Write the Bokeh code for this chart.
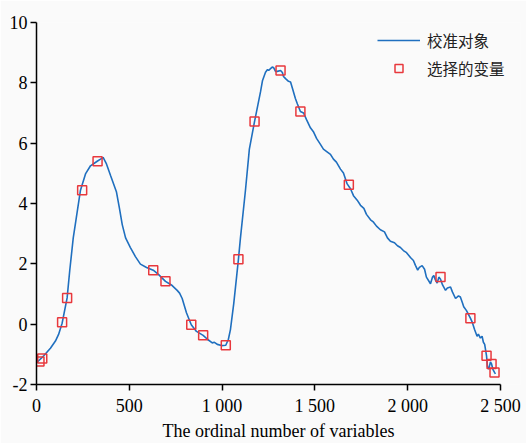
from bokeh.plotting import figure
from bokeh.models import Range1d, FixedTicker, Legend, LegendItem
from bokeh.embed import file_html
from bokeh.resources import INLINE

# Calibration object spectrum
line_x = [0, 39, 75, 102, 119, 138, 165, 179, 198, 214, 237, 264, 291, 327, 345, 359, 377, 399, 431, 447,
          462, 480, 506, 533, 560, 593, 629, 657, 695, 727, 758, 771, 785, 808, 834, 862, 898, 921, 947, 959,
          974, 997, 1020, 1034, 1045, 1063, 1078, 1088, 1099, 1126, 1147, 1175, 1207, 1218, 1234, 1245, 1251,
          1261, 1270, 1277, 1288, 1298, 1315, 1325, 1331, 1342, 1358, 1369, 1379, 1395, 1406, 1422, 1439, 1455,
          1476, 1492, 1509, 1530, 1546, 1562, 1584, 1600, 1616, 1638, 1654, 1674, 1692, 1708, 1728, 1746, 1764,
          1778, 1800, 1816, 1832, 1853, 1875, 1891, 1907, 1929, 1945, 1961, 1977, 1994, 2015, 2031, 2042, 2054,
          2063, 2078, 2091, 2101, 2123, 2134, 2141, 2150, 2159, 2168, 2177, 2188, 2204, 2214, 2231, 2241, 2258,
          2274, 2284, 2295, 2302, 2317, 2338, 2349, 2360, 2374, 2381, 2392, 2401, 2408, 2415, 2425, 2430, 2437,
          2446, 2452, 2460, 2468, 2473]
line_y = [-1.28, -1.05, -0.80, -0.56, -0.34, 0.03, 0.87, 1.77, 2.86, 3.51, 4.44, 4.98, 5.25, 5.40, 5.47, 5.53,
          5.31, 4.93, 4.38, 3.84, 3.30, 2.86, 2.54, 2.24, 1.99, 1.88, 1.79, 1.65, 1.42, 1.30, 1.12, 1.03, 0.85,
          0.38, -0.02, -0.24, -0.37, -0.50, -0.62, -0.60, -0.67, -0.71, -0.70, -0.50, -0.18, 0.69, 1.56, 2.15,
          2.86, 4.44, 5.80, 6.72, 7.70, 8.08, 8.35, 8.44, 8.41, 8.47, 8.52, 8.51, 8.38, 8.38, 8.41, 8.34, 8.21,
          8.14, 8.05, 8.03, 7.82, 7.48, 7.30, 7.05, 7.00, 6.78, 6.51, 6.38, 6.16, 5.96, 5.80, 5.73, 5.63, 5.47,
          5.37, 5.14, 5.01, 4.65, 4.49, 4.26, 4.11, 3.94, 3.84, 3.64, 3.46, 3.38, 3.25, 3.13, 3.06, 2.86, 2.75,
          2.70, 2.60, 2.54, 2.44, 2.37, 2.21, 2.11, 1.95, 1.79, 1.88, 1.94, 1.82, 1.56, 1.34, 1.56, 1.61, 1.46,
          1.36, 1.56, 1.49, 1.30, 1.12, 1.20, 1.23, 1.07, 0.85, 0.94, 0.90, 0.71, 0.58, 0.45, 0.20, 0.05, -0.17,
          -0.40, -0.33, -0.46, -0.40, -0.60, -0.67, -1.05, -1.41, -1.49, -1.25, -1.32, -1.51, -1.60, -1.65]

# Selected variables
sel_x = [16, 31, 138, 165, 246, 329, 629, 695, 834, 898, 1020, 1088, 1175, 1315, 1422, 1683, 2177, 2338,
         2425, 2452, 2468]
sel_y = [-1.24, -1.14, 0.06, 0.87, 4.44, 5.40, 1.79, 1.42, -0.02, -0.37, -0.70, 2.15, 6.72, 8.41, 7.05, 4.62,
         1.56, 0.20, -1.05, -1.32, -1.60]

x_ticks = [0, 500, 1000, 1500, 2000, 2500]
x_tick_labels = ["0", "500", "1 000", "1 500", "2 000", "2 500"]
y_ticks = [-2, 0, 2, 4, 6, 8, 10]
y_tick_labels = ["-2", "0", "2", "4", "6", "8", "10"]
x_title = "The ordinal number of variables"
legend_labels = ["校准对象", "选择的变量"]

BG = "#fafafa"
SERIF = "Liberation Serif"
# frame extends a little past 2500 so the legend is not clipped; the axis line stops at 2500
p = figure(width=526, height=443, output_backend="svg", toolbar_location=None,
           x_range=Range1d(0, 2608), y_range=Range1d(-2, 10),
           min_border_left=36, min_border_right=6, min_border_top=22, min_border_bottom=54)
p.background_fill_color = BG
p.border_fill_color = BG
p.outline_line_color = None
p.xgrid.visible = False
p.ygrid.visible = False

p.xaxis.ticker = FixedTicker(ticks=x_ticks)
p.xaxis.major_label_overrides = {t: l for t, l in zip(x_ticks, x_tick_labels)}
p.xaxis.bounds = (x_ticks[0], x_ticks[-1])
p.yaxis.ticker = FixedTicker(ticks=y_ticks)
p.yaxis.major_label_overrides = {t: l for t, l in zip(y_ticks, y_tick_labels)}
for axes in (p.xaxis, p.yaxis):
    axes.minor_tick_line_color = None
    axes.major_tick_in = 0
    axes.major_tick_out = 6
    axes.axis_line_width = 1.5
    axes.major_tick_line_width = 1.5
    axes.axis_line_color = "black"
    axes.major_tick_line_color = "black"
    axes.major_label_text_font = SERIF
    axes.major_label_text_font_size = "18px"
    axes.major_label_text_color = "black"
p.xaxis.major_label_standoff = 5
p.yaxis.major_label_standoff = 3

p.xaxis.axis_label = x_title
p.xaxis.axis_label_text_font = SERIF
p.xaxis.axis_label_text_font_style = "normal"
p.xaxis.axis_label_text_font_size = "18px"
p.xaxis.axis_label_text_color = "black"
p.xaxis.axis_label_standoff = 2

r_line = p.line(line_x, line_y, line_color="#1f6fbf", line_width=1.6)
r_sq = p.scatter(sel_x, sel_y, marker="square", size=9, fill_color=None,
                 line_color="#e8383d", line_width=1.5)

legend = Legend(items=[LegendItem(label=legend_labels[0], renderers=[r_line]),
                       LegendItem(label=legend_labels[1], renderers=[r_sq])],
                location=(341, 305))
legend.border_line_color = None
legend.background_fill_alpha = 0
legend.padding = 0
legend.margin = 0
legend.spacing = 6
legend.glyph_width = 43
legend.glyph_height = 20
legend.label_height = 20
legend.label_standoff = 7
legend.label_text_font = "Noto Sans CJK SC"
legend.label_text_font_size = "15.5px"
legend.label_text_color = "#222222"
p.add_layout(legend)

open("out.html", "w").write(file_html(p, INLINE))
